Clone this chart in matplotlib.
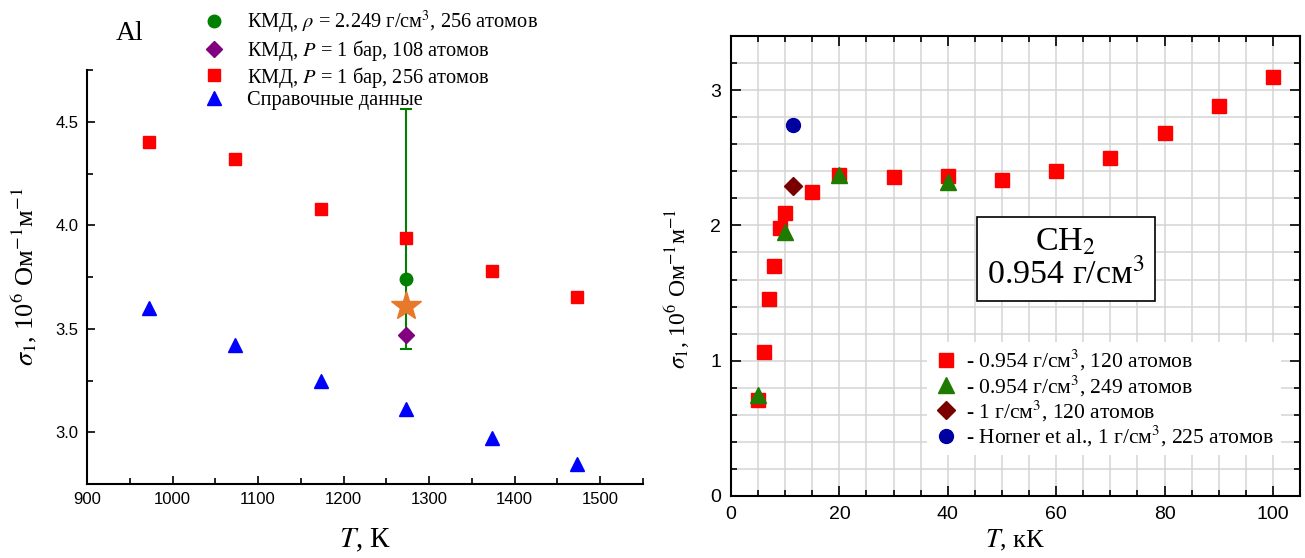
import numpy as np
import matplotlib
matplotlib.use('Agg')
import matplotlib.pyplot as plt
from matplotlib.ticker import MultipleLocator
from matplotlib.lines import Line2D

plt.rcParams['font.family'] = ['Liberation Serif', 'DejaVu Serif']
plt.rcParams['mathtext.fontset'] = 'stix'

# --- Al panel data ---
al_T = [973, 1073, 1173, 1273, 1373, 1473]
al_kmd256 = [4.40, 4.32, 4.08, 3.94, 3.78, 3.655]
al_ref = [3.60, 3.42, 3.25, 3.11, 2.97, 2.845]
al_rho_T = [1273]
al_rho_val = [3.74]
al_rho_lo = [3.40]
al_rho_hi = [4.56]
al_108_T = [1273]
al_108_val = [3.47]
al_star_T = [1273]
al_star_val = [3.61]

# --- CH2 panel data ---
ch_T120 = [5, 6, 7, 8, 9, 10, 15, 20, 30, 40, 50, 60, 70, 80, 90, 100]
ch_s120 = [0.71, 1.065, 1.455, 1.70, 1.98, 2.09, 2.245, 2.37, 2.36, 2.365, 2.335, 2.405, 2.50, 2.685, 2.885, 3.10]
ch_T249 = [5, 10, 20, 40]
ch_s249 = [0.75, 1.95, 2.375, 2.32]
ch_T1 = [11.5]
ch_s1 = [2.29]
horner_T = [11.5]
horner_s = [2.74]

W, H = 1305, 558
fig = plt.figure(figsize=(W / 100, H / 100), dpi=100)

sans = ['Liberation Sans', 'DejaVu Sans']

# ---------------- left panel ----------------
ax1 = fig.add_axes([87 / W, 1 - 484 / H, (643 - 87) / W, (484 - 70) / H])
ax1.errorbar(al_rho_T, al_rho_val,
             yerr=[[al_rho_val[0] - al_rho_lo[0]], [al_rho_hi[0] - al_rho_val[0]]],
             fmt='o', color='#008000', ms=9, capsize=4, elinewidth=1.5,
             capthick=1.5, zorder=3)
h_rho = Line2D([], [], marker='o', color='#008000', ms=9, ls='none')
h_108, = ax1.plot(al_108_T, al_108_val, 'D', color='#800080', ms=8, ls='none', zorder=4)
h_256, = ax1.plot(al_T, al_kmd256, 's', color='#ff0000', ms=9, ls='none', zorder=4)
h_ref, = ax1.plot(al_T, al_ref, '^', color='#0000ff', ms=10, ls='none', zorder=4)
ax1.plot(al_star_T, al_star_val, '*', color='#e8782a', ms=22, ls='none', zorder=5)

ax1.set_xlim(900, 1550)
ax1.set_ylim(2.75, 4.75)
ax1.xaxis.set_major_locator(MultipleLocator(100))
ax1.xaxis.set_minor_locator(MultipleLocator(50))
ax1.yaxis.set_major_locator(MultipleLocator(0.5))
ax1.yaxis.set_minor_locator(MultipleLocator(0.25))
ax1.yaxis.set_major_formatter(plt.FormatStrFormatter('%.1f'))
ax1.spines['top'].set_visible(False)
ax1.spines['right'].set_visible(False)
for s in ('left', 'bottom'):
    ax1.spines[s].set_linewidth(1.5)
ax1.tick_params(which='both', direction='in', width=1.2)
ax1.tick_params(which='major', length=6, pad=6)
ax1.tick_params(which='minor', length=4)
for lab in ax1.get_xticklabels() + ax1.get_yticklabels():
    lab.set_family(sans)
    lab.set_fontsize(12)
ax1.set_xlabel('$T$, К', fontsize=21, labelpad=14)
ax1.set_ylabel('$\\sigma_1$, 10$^6$ Ом$^{-1}$м$^{-1}$', fontsize=19, labelpad=12)

fig.text(130 / W, 1 - 33 / H, 'Al', fontsize=20, ha='center', va='center')
fig.legend([h_rho, h_108, h_256, h_ref],
           ['КМД, $\\rho$ = 2.249 г/см$^3$, 256 атомов',
            'КМД, $P$ = 1 бар, 108 атомов',
            'КМД, $P$ = 1 бар, 256 атомов',
            'Справочные данные'],
           loc='upper left', bbox_to_anchor=(196 / W, 1 - 1 / H),
           frameon=False, fontsize=14.7, handlelength=1.0, handletextpad=1.1,
           labelspacing=0.08, borderaxespad=0)

# ---------------- right panel ----------------
ax2 = fig.add_axes([731 / W, 1 - 496 / H, (1300 - 731) / W, (496 - 36) / H])
ax2.set_xlim(0, 105)
ax2.set_ylim(0, 3.4)
ax2.xaxis.set_major_locator(MultipleLocator(20))
ax2.xaxis.set_minor_locator(MultipleLocator(5))
ax2.yaxis.set_major_locator(MultipleLocator(1))
ax2.yaxis.set_minor_locator(MultipleLocator(0.2))
ax2.grid(which='both', color='#d4d4d4', lw=1.1, zorder=0)
ax2.set_axisbelow(True)

g1, = ax2.plot(ch_T120, ch_s120, 's', color='#ff0000', ms=10, ls='none', zorder=3)
g2, = ax2.plot(ch_T249, ch_s249, '^', color='#1e7b00', ms=11, ls='none', zorder=4)
g3, = ax2.plot(ch_T1, ch_s1, 'D', color='#7a0000', ms=9, ls='none', zorder=4)
g4, = ax2.plot(horner_T, horner_s, 'o', color='#0000a0', ms=10, ls='none', zorder=4)

for s in ax2.spines.values():
    s.set_linewidth(1.5)
ax2.tick_params(which='both', direction='in', top=True, right=True, width=1.2)
ax2.tick_params(which='major', length=7, pad=7)
ax2.tick_params(which='minor', length=4)
for lab in ax2.get_xticklabels() + ax2.get_yticklabels():
    lab.set_family(sans)
    lab.set_fontsize(14)
ax2.set_xlabel('$T$, кК', fontsize=19, labelpad=4)
ax2.set_ylabel('$\\sigma_1$, 10$^6$ Ом$^{-1}$м$^{-1}$', fontsize=17)
ax2.yaxis.set_label_coords(-0.068, 0.45)

ax2.text(61.8, 1.75, 'CH$_2$\n0.954 г/см$^3$', fontsize=24.5, ha='center', va='center',
         linespacing=1.05,
         bbox=dict(boxstyle='square,pad=0.3', fc='white', ec='black', lw=1.2), zorder=5)

leg = ax2.legend([g1, g2, g3, g4],
                 ['- 0.954 г/см$^3$, 120 атомов',
                  '- 0.954 г/см$^3$, 249 атомов',
                  '- 1 г/см$^3$, 120 атомов',
                  '- Horner et al., 1 г/см$^3$, 225 атомов'],
                 loc='upper left', bbox_to_anchor=(0.345, 0.335),
                 frameon=True, fontsize=15.5, handlelength=1.1, handletextpad=0.4,
                 labelspacing=0.0, borderaxespad=0, borderpad=0.3)
leg.get_frame().set_facecolor('white')
leg.get_frame().set_edgecolor('none')
leg.get_frame().set_alpha(1)

fig.savefig('out.png', dpi=100)
